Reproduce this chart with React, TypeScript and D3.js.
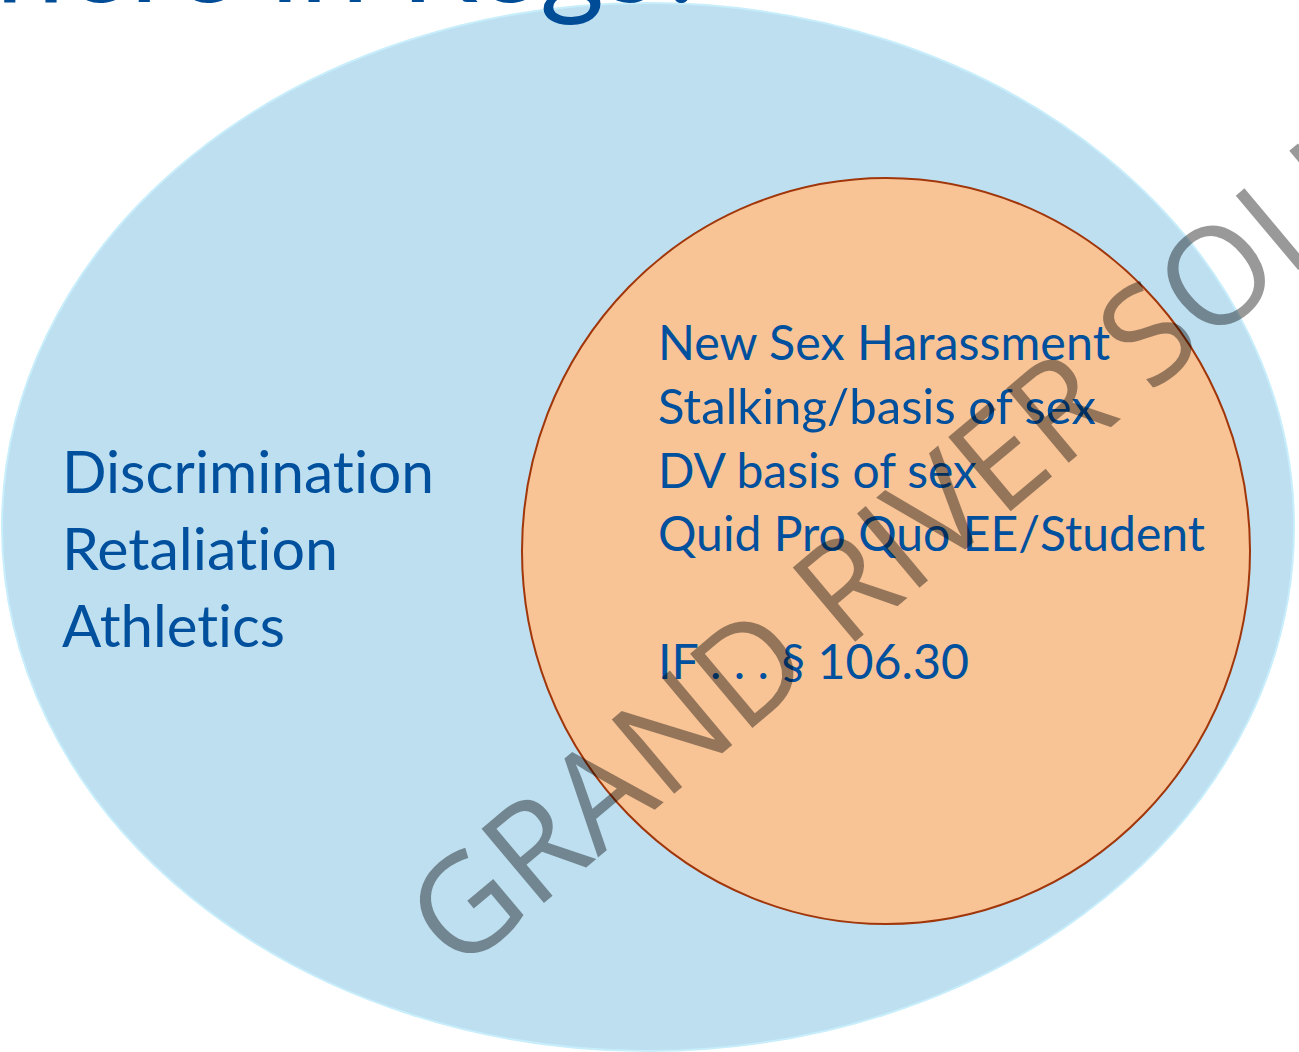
import React from "react";
import * as d3 from "d3";

const TITLE = "Where in Regs?";
const OUTER_LABELS = ["Discrimination", "Retaliation", "Athletics"];
const INNER_LABELS = [
  "New Sex Harassment",
  "Stalking/basis of sex",
  "DV basis of sex",
  "Quid Pro Quo EE/Student",
  "",
  "IF . . . § 106.30",
];
const WATERMARK = "GRAND RIVER SOLUTIONS";

// layout: measured text widths (px) in the reference
const OUTER_WIDTHS = [372, 276, 223];
const INNER_WIDTHS = [452, 438, 319, 547, 0, 311];

const W = 1299;
const H = 1052;
const TEXT_BLUE = "#00509E";
const FONT = "Lato, 'Open Sans', sans-serif";
const NO_LIGA = { fontVariantLigatures: "none", fontFeatureSettings: "'liga' 0, 'clig' 0" } as React.CSSProperties;

export default function App() {
  const outerY = d3.scaleLinear().domain([0, OUTER_LABELS.length - 1]).range([493, 647]);
  const innerY = d3.scaleLinear().domain([0, INNER_LABELS.length - 1]).range([360, 679]);

  return (
    <svg
      width={W}
      height={H}
      viewBox={`0 0 ${W} ${H}`}
      style={{ position: "absolute", left: 0, top: 0, background: "#ffffff" }}
    >
      <ellipse cx={648} cy={527} rx={646} ry={524} fill="#BDDFF0" stroke="#C8EEFB" strokeWidth={2} />
      <text x={712} y={2} textAnchor="end" fontFamily={FONT} fontSize={124} fill="#004C97" style={NO_LIGA}>
        {TITLE}
      </text>
      <ellipse cx={886} cy={551} rx={364} ry={373} fill="#F8C496" stroke="#A0360A" strokeWidth={2} />
      {OUTER_LABELS.map((t, i) => (
        <text
          key={t}
          x={62}
          y={outerY(i)}
          fontFamily={FONT}
          fontSize={58}
          fill={TEXT_BLUE}
          textLength={OUTER_WIDTHS[i]}
          lengthAdjust="spacingAndGlyphs"
          style={NO_LIGA}
        >
          {t}
        </text>
      ))}
      {INNER_LABELS.map((t, i) =>
        t ? (
          <text
            key={t}
            x={658}
            y={innerY(i)}
            fontFamily={FONT}
            fontSize={47.5}
            fill={TEXT_BLUE}
            textLength={INNER_WIDTHS[i]}
            lengthAdjust="spacingAndGlyphs"
            style={NO_LIGA}
          >
            {t}
          </text>
        ) : null
      )}
      <text
        transform="translate(458,975) rotate(-40)"
        fontFamily="'Open Sans', sans-serif"
        fontSize={136}
        fill="#000000"
        fillOpacity={0.4}
      >
        {WATERMARK}
      </text>
    </svg>
  );
}
